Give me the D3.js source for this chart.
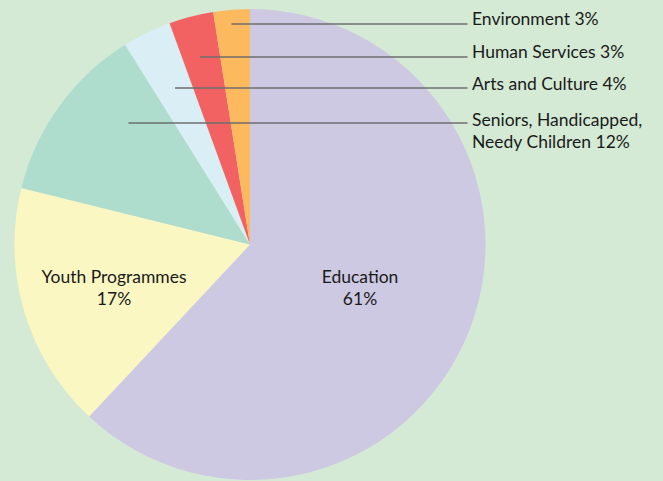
<!DOCTYPE html>
<html>
<head>
<meta charset="utf-8">
<script src="https://cdn.jsdelivr.net/npm/d3@7"></script>
<style>
html,body{margin:0;padding:0;background:#d4ead5;}
svg{display:block;}
text{font-family:Lato,"Noto Sans",sans-serif;fill:#1a1a1a;}
</style>
</head>
<body>
<svg id="chart" width="663" height="481"></svg>
<script>
// ---- data ----
const categories = ["Education","Youth Programmes","Seniors, Handicapped, Needy Children","Arts and Culture","Human Services","Environment"];
const values = [62.0, 16.9, 12.25, 3.35, 3.05, 2.5];
const percentLabels = ["61%","17%","12%","4%","3%","3%"];
const colors = ["#cdc9e2","#faf7c3","#aedccd","#daeef5","#f26262","#fdb95e"];

// ---- layout ----
const W = 663, H = 481;
const cx = 250, cy = 244.5, R = 235.5;
const fontSize = 17.5;
// inner labels: [index, x, y of first baseline]
const innerLabels = [
  {i:0, x:360, y:283, lines:["Education","61%"]},
  {i:1, x:114, y:283, lines:["Youth Programmes","17%"]}
];
// outer labels with leader lines
const outerLabels = [
  {i:5, lineY:24,  startX:231.5, textY:25,  lines:["Environment 3%"]},
  {i:4, lineY:57,  startX:200,   textY:57.5,lines:["Human Services 3%"]},
  {i:3, lineY:88,  startX:175,   textY:90,  lines:["Arts and Culture 4%"]},
  {i:2, lineY:123, startX:128.5, textY:126, lines:["Seniors, Handicapped,","Needy Children 12%"]}
];
const lineEndX = 467.5, textX = 472, lineGap = 21.5;

const svg = d3.select("#chart");
svg.append("rect").attr("width",W).attr("height",H).attr("fill","#d4ead5");

const pie = d3.pie().sort(null).value(d=>d)(values);
const arc = d3.arc().innerRadius(0).outerRadius(R);
const color = d3.scaleOrdinal().domain(d3.range(categories.length)).range(colors);

const g = svg.append("g").attr("transform",`translate(${cx},${cy})`);
g.selectAll("path").data(pie).join("path")
  .attr("d",arc)
  .attr("fill",(d,i)=>color(i));

// leader lines
svg.selectAll("line.leader").data(outerLabels).join("line")
  .attr("class","leader")
  .attr("x1",d=>d.startX).attr("x2",lineEndX)
  .attr("y1",d=>d.lineY).attr("y2",d=>d.lineY)
  .attr("stroke","#6e6e6e").attr("stroke-width",1.6);

// outer text
outerLabels.forEach(d=>{
  const t = svg.append("text").attr("x",textX).attr("y",d.textY).attr("font-size",fontSize);
  d.lines.forEach((l,k)=>{
    t.append("tspan").attr("x",textX).attr("y",d.textY+k*lineGap).text(l);
  });
});

// inner text
innerLabels.forEach(d=>{
  const t = svg.append("text").attr("text-anchor","middle").attr("font-size",fontSize);
  d.lines.forEach((l,k)=>{
    t.append("tspan").attr("x",d.x).attr("y",d.y+k*lineGap).text(l);
  });
});
</script>
</body>
</html>
